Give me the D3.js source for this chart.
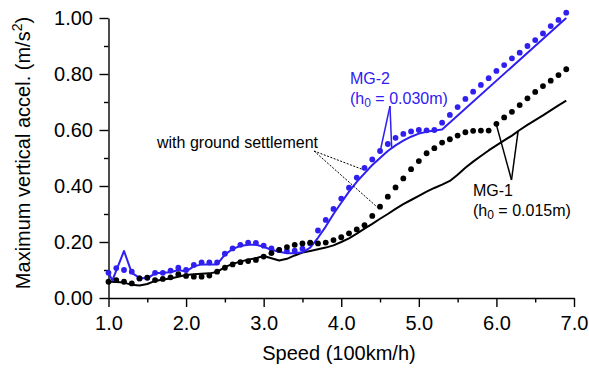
<!DOCTYPE html>
<html>
<head>
<meta charset="utf-8">
<script src="https://cdn.jsdelivr.net/npm/d3@7"></script>
<style>
  html, body { margin: 0; padding: 0; background: #fff; }
  svg { display: block; font-family: "Liberation Sans", Arial, sans-serif; }
</style>
</head>
<body>
<svg id="chart" width="589" height="369"></svg>
<script>
// Speeds (100 km/h) for the measured series with ground settlement
const dotSpeeds = [1.0,1.1,1.2,1.3,1.4,1.5,1.6,1.7,1.8,1.9,
                   2.0,2.1,2.2,2.3,2.4,2.5,2.6,2.7,2.8,2.9,
                   3.0,3.1,3.2,3.3,3.4,3.5,3.6,3.7,3.8,3.9,
                   4.0,4.1,4.2,4.3,4.4,4.5,4.6,4.7,4.8,4.9,
                   5.0,5.1,5.2,5.3,5.4,5.5,5.6,5.7,5.8,5.9,
                   6.0,6.1,6.2,6.3,6.4,6.5,6.6,6.7,6.8,6.9];

// MG-1 (h0 = 0.015 m), with ground settlement
const mg1Settle = [0.058,0.064,0.058,0.052,0.070,0.073,0.064,0.068,0.074,0.085,
                   0.079,0.076,0.076,0.080,0.094,0.108,0.120,0.128,0.132,0.136,
                   0.148,0.160,0.172,0.182,0.190,0.195,0.198,0.195,0.198,0.207,
                   0.217,0.231,0.245,0.260,0.293,0.326,0.362,0.395,0.427,0.460,
                   0.489,0.517,0.535,0.555,0.567,0.580,0.592,0.597,0.598,0.598,
                   0.622,0.645,0.665,0.689,0.713,0.736,0.757,0.776,0.796,0.817];

// MG-2 (h0 = 0.030 m), with ground settlement
const mg2Settle = [0.090,0.107,0.100,0.094,0.070,0.072,0.090,0.090,0.098,0.108,
                   0.100,0.118,0.127,0.127,0.127,0.158,0.177,0.190,0.198,0.197,
                   0.187,0.177,0.171,0.168,0.169,0.176,0.195,0.241,0.279,0.318,
                   0.355,0.394,0.430,0.465,0.495,0.525,0.550,0.572,0.586,0.595,
                   0.600,0.599,0.600,0.626,0.654,0.682,0.711,0.737,0.761,0.785,
                   0.811,0.832,0.856,0.876,0.900,0.921,0.945,0.971,0.993,1.019];

// MG-1 without settlement (solid black line)
const mg1Speeds = [1.0,1.1,1.2,1.3,1.4,1.5,1.6,1.7,1.8,1.9,
                   2.0,2.1,2.2,2.3,2.4,2.5,2.6,2.7,2.8,2.9,
                   3.0,3.1,3.2,3.3,3.4,3.5,3.6,3.7,3.8,3.9,
                   4.0,4.1,4.2,4.3,4.4,4.5,4.6,4.7,4.8,4.9,
                   5.0,5.1,5.2,5.3,5.4,5.5,5.6,5.7,5.8,5.9,
                   6.0,6.1,6.2,6.3,6.4,6.5,6.6,6.7,6.8,6.9];
const mg1Plain  = [0.058,0.057,0.055,0.047,0.045,0.050,0.061,0.066,0.070,0.076,
                   0.082,0.085,0.087,0.088,0.093,0.110,0.122,0.130,0.137,0.142,
                   0.150,0.142,0.134,0.140,0.152,0.162,0.168,0.174,0.180,0.188,
                   0.200,0.213,0.230,0.248,0.265,0.283,0.300,0.318,0.335,0.350,
                   0.365,0.380,0.393,0.405,0.418,0.440,0.465,0.487,0.507,0.527,
                   0.545,0.563,0.580,0.600,0.618,0.635,0.652,0.670,0.688,0.705];

// MG-2 without settlement (solid blue line)
const mg2Speeds = [1.0,1.05,1.2,1.3,1.4,1.5,1.6,1.7,1.8,1.9,
                   2.0,2.1,2.2,2.3,2.4,2.5,2.6,2.7,2.8,2.9,
                   3.0,3.1,3.2,3.3,3.4,3.5,3.6,3.7,3.8,3.9,
                   4.0,4.1,4.2,4.3,4.4,4.5,4.6,4.7,4.8,4.9,
                   5.0,5.1,5.2,5.3,6.9];
const mg2Plain  = [0.090,0.063,0.168,0.090,0.072,0.070,0.088,0.090,0.092,0.100,
                   0.095,0.113,0.120,0.120,0.120,0.155,0.175,0.186,0.190,0.190,
                   0.183,0.172,0.165,0.160,0.160,0.163,0.180,0.215,0.255,0.300,
                   0.340,0.380,0.415,0.445,0.475,0.500,0.525,0.545,0.562,0.576,
                   0.587,0.594,0.598,0.602,1.000];

// Axis ticks
const xMajor = [1,2,3,4,5,6,7];
const xMinor = [1.5,2.5,3.5,4.5,5.5,6.5];
const yMajor = [0,0.2,0.4,0.6,0.8,1.0];
const yMinor = [0.1,0.3,0.5,0.7,0.9];

const BLUE = "#3020f0";
const BLACK = "#000";

const svg = d3.select("#chart");
const x = d3.scaleLinear().domain([1, 7]).range([108.5, 574]);
const y = d3.scaleLinear().domain([0, 1]).range([298, 18]);

// Axes
const gx = svg.append("g").attr("transform", `translate(0,${y(0)})`);
gx.call(d3.axisBottom(x).tickValues(xMajor).tickFormat(d3.format(".1f"))
  .tickSize(9).tickSizeOuter(0).tickPadding(9));
const gxm = svg.append("g").attr("transform", `translate(0,${y(0)})`);
gxm.call(d3.axisBottom(x).tickValues(xMinor).tickFormat("").tickSize(4.5).tickSizeOuter(0));
gxm.select(".domain").remove();

const gy = svg.append("g").attr("transform", `translate(${x(1)},0)`);
gy.call(d3.axisLeft(y).tickValues(yMajor).tickFormat(d3.format(".2f"))
  .tickSize(9).tickSizeOuter(0).tickPadding(6.5));
const gym = svg.append("g").attr("transform", `translate(${x(1)},0)`);
gym.call(d3.axisLeft(y).tickValues(yMinor).tickFormat("").tickSize(4.5).tickSizeOuter(0));
gym.select(".domain").remove();

svg.selectAll(".domain, .tick line").attr("stroke", BLACK).attr("stroke-width", 1.4);
svg.selectAll(".tick text").attr("font-size", 20).attr("fill", BLACK)
  .attr("font-family", "Liberation Sans, Arial, sans-serif");

// Axis titles
svg.append("text")
  .attr("x", 339).attr("y", 360)
  .attr("text-anchor", "middle").attr("font-size", 20)
  .text("Speed (100km/h)");

const yt = svg.append("text")
  .attr("transform", "translate(30,153) rotate(-90)")
  .attr("text-anchor", "middle").attr("font-size", 20);
yt.append("tspan").text("Maximum vertical accel. (m/s");
yt.append("tspan").attr("font-size", 14).attr("dy", -8).text("2");
yt.append("tspan").attr("dy", 8).text(")");

// Series
const line = d3.line().x(d => x(d[0])).y(d => y(d[1]));

svg.append("path")
  .datum(d3.zip(mg1Speeds, mg1Plain))
  .attr("fill", "none").attr("stroke", BLACK).attr("stroke-width", 2)
  .attr("stroke-linejoin", "round").attr("d", line);

svg.append("path")
  .datum(d3.zip(mg2Speeds, mg2Plain))
  .attr("fill", "none").attr("stroke", BLUE).attr("stroke-width", 2)
  .attr("stroke-linejoin", "round").attr("d", line);

svg.append("g").selectAll("circle")
  .data(d3.zip(dotSpeeds, mg2Settle)).join("circle")
  .attr("cx", d => x(d[0])).attr("cy", d => y(d[1])).attr("r", 2.9)
  .attr("fill", BLUE);

svg.append("g").selectAll("circle")
  .data(d3.zip(dotSpeeds, mg1Settle)).join("circle")
  .attr("cx", d => x(d[0])).attr("cy", d => y(d[1])).attr("r", 2.9)
  .attr("fill", BLACK);

// Annotation: with ground settlement (dotted leaders to the dotted series)
svg.append("text").attr("x", 157).attr("y", 148).attr("font-size", 16)
  .text("with ground settlement");
const leadStart = [314, 151];
[[4.3, mg2Settle[dotSpeeds.indexOf(4.3)]], [4.5, mg1Settle[dotSpeeds.indexOf(4.5)]]].forEach(p => {
  svg.append("line")
    .attr("x1", leadStart[0]).attr("y1", leadStart[1])
    .attr("x2", x(p[0]) - 1).attr("y2", y(p[1]) + 2)
    .attr("stroke", BLACK).attr("stroke-width", 1).attr("stroke-dasharray", "2,1.5");
});

// Label helper: name on first line, (h0 = …) on the second
function seriesLabel(x0, y0, name, h, color) {
  const t = svg.append("text").attr("font-size", 16).attr("fill", color);
  t.append("tspan").attr("x", x0).attr("y", y0).text(name);
  const l2 = svg.append("text").attr("font-size", 16).attr("fill", color)
    .attr("x", x0).attr("y", y0 + 20);
  l2.append("tspan").text("(h");
  l2.append("tspan").attr("font-size", 12).attr("dy", 3).text("0");
  l2.append("tspan").attr("dy", -3).text(` = ${h})`);
}

// MG-2 label with pointers to the dot and the line
seriesLabel(350, 84, "MG-2", "0.030m", BLUE);
const apex2 = [390, 106];
[[x(4.5), y(mg2Settle[dotSpeeds.indexOf(4.5)]) + 1], [x(4.65), y(0.535)]].forEach(p => {
  svg.append("line").attr("x1", apex2[0]).attr("y1", apex2[1])
    .attr("x2", p[0]).attr("y2", p[1])
    .attr("stroke", BLUE).attr("stroke-width", 1.5);
});

// MG-1 label with pointers to the dot and the line
seriesLabel(473, 196, "MG-1", "0.015m", BLACK);
const apex1 = [511.5, 180];
[[x(6.0), y(mg1Settle[dotSpeeds.indexOf(6.0)]) + 1], [x(6.28), y(0.597)]].forEach(p => {
  svg.append("line").attr("x1", apex1[0]).attr("y1", apex1[1])
    .attr("x2", p[0]).attr("y2", p[1])
    .attr("stroke", BLACK).attr("stroke-width", 1.5);
});
</script>
</body>
</html>
